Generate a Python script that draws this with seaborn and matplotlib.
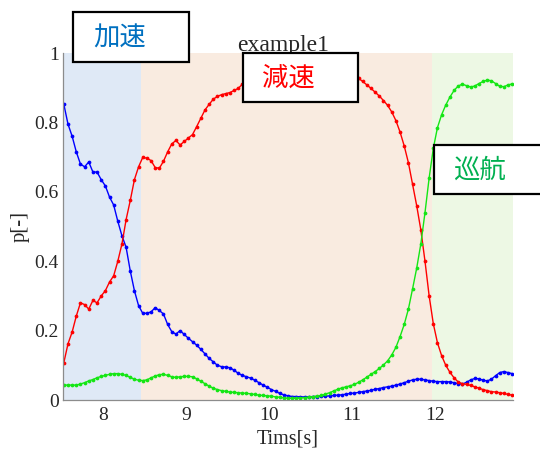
#!/usr/bin/env python3
"""Phase probability plot (accel / decel / cruise) over time."""

import numpy as np
import pandas as pd
import matplotlib
matplotlib.use('Agg')
import matplotlib.pyplot as plt
from matplotlib.patches import Rectangle
import seaborn as sns

# sampling grid [s]
T_START = 7.53
T_STEP = 0.05
N_SAMPLES = 109

# p(加速) - blue
p_accel = [
    0.852, 0.795, 0.760, 0.715, 0.680, 0.672, 0.686, 0.657, 0.657, 0.635,
    0.617, 0.585, 0.562, 0.515, 0.473, 0.440, 0.372, 0.315, 0.272, 0.250,
    0.250, 0.254, 0.266, 0.258, 0.248, 0.218, 0.197, 0.190, 0.200, 0.189,
    0.178, 0.168, 0.158, 0.146, 0.133, 0.120, 0.110, 0.100, 0.096, 0.095,
    0.093, 0.086, 0.077, 0.071, 0.067, 0.063, 0.057, 0.050, 0.043, 0.037,
    0.030, 0.025, 0.019, 0.015, 0.012, 0.010, 0.010, 0.009, 0.009, 0.009,
    0.010, 0.010, 0.011, 0.011, 0.012, 0.013, 0.014, 0.015, 0.017, 0.019,
    0.020, 0.022, 0.024, 0.026, 0.028, 0.031, 0.033, 0.036, 0.038, 0.040,
    0.043, 0.046, 0.050, 0.054, 0.058, 0.060, 0.060, 0.058, 0.056, 0.054,
    0.053, 0.053, 0.053, 0.052, 0.050, 0.047, 0.046, 0.051, 0.058, 0.062,
    0.061, 0.057, 0.055, 0.060, 0.070, 0.079, 0.082, 0.079, 0.076,
]

# p(減速) - red
p_decel = [
    0.108, 0.162, 0.196, 0.242, 0.280, 0.275, 0.262, 0.287, 0.280, 0.300,
    0.315, 0.340, 0.358, 0.400, 0.450, 0.520, 0.575, 0.635, 0.672, 0.699,
    0.697, 0.690, 0.670, 0.668, 0.688, 0.715, 0.738, 0.748, 0.735, 0.745,
    0.755, 0.765, 0.788, 0.812, 0.836, 0.852, 0.867, 0.875, 0.880, 0.883,
    0.886, 0.892, 0.898, 0.910, 0.914, 0.919, 0.927, 0.936, 0.944, 0.951,
    0.959, 0.966, 0.973, 0.979, 0.983, 0.985, 0.985, 0.985, 0.984, 0.983,
    0.980, 0.979, 0.976, 0.972, 0.967, 0.961, 0.955, 0.950, 0.945, 0.940,
    0.935, 0.927, 0.918, 0.908, 0.898, 0.887, 0.876, 0.863, 0.849, 0.830,
    0.805, 0.772, 0.732, 0.684, 0.622, 0.560, 0.490, 0.400, 0.300, 0.220,
    0.165, 0.128, 0.100, 0.080, 0.064, 0.052, 0.047, 0.045, 0.042, 0.038,
    0.034, 0.030, 0.027, 0.024, 0.023, 0.021, 0.019, 0.016, 0.014,
]

# p(巡航) - green
p_cruise = [
    0.043, 0.043, 0.043, 0.043, 0.046, 0.050, 0.055, 0.059, 0.064, 0.068,
    0.071, 0.074, 0.076, 0.076, 0.074, 0.071, 0.065, 0.060, 0.057, 0.056,
    0.058, 0.064, 0.069, 0.073, 0.074, 0.071, 0.067, 0.065, 0.067, 0.068,
    0.068, 0.067, 0.061, 0.054, 0.047, 0.040, 0.034, 0.030, 0.027, 0.025,
    0.023, 0.022, 0.021, 0.020, 0.019, 0.018, 0.016, 0.014, 0.013, 0.012,
    0.011, 0.009, 0.008, 0.006, 0.005, 0.005, 0.005, 0.006, 0.007, 0.008,
    0.010, 0.011, 0.013, 0.017, 0.021, 0.026, 0.031, 0.035, 0.038, 0.041,
    0.045, 0.051, 0.058, 0.066, 0.074, 0.082, 0.091, 0.101, 0.113, 0.130,
    0.152, 0.183, 0.218, 0.262, 0.320, 0.380, 0.450, 0.540, 0.640, 0.725,
    0.785, 0.822, 0.850, 0.873, 0.892, 0.905, 0.910, 0.906, 0.902, 0.905,
    0.912, 0.918, 0.922, 0.920, 0.912, 0.904, 0.903, 0.908, 0.911,
]

# phase boundaries [s]
phase_edges = [7.52, 8.46, 11.97, 12.94]
phase_colors = ['#dfe9f6', '#f9ebe0', '#edf8e4']

x_ticks = [8, 9, 10, 11, 12]
y_ticks = [0, 0.2, 0.4, 0.6, 0.8, 1]
y_ticklabels = ['0', '0.2', '0.4', '0.6', '0.8', '1']

SERIF = ['Liberation Serif', 'DejaVu Serif']
CJK = ['Noto Sans CJK JP', 'DejaVu Sans']


def main():
    sns.set_style('white')
    plt.rcParams['font.family'] = SERIF

    t = np.round(T_START + T_STEP * np.arange(N_SAMPLES), 2)
    df = pd.DataFrame({'t': t, 'accel': p_accel, 'decel': p_decel, 'cruise': p_cruise})

    fig = plt.figure(figsize=(5.4, 4.5), dpi=100)
    ax = fig.add_axes([0.1167, 0.1111, 0.8333, 0.7711])

    for i, c in enumerate(phase_colors):
        ax.axvspan(phase_edges[i], phase_edges[i + 1], color=c, lw=0, zorder=0)

    style = dict(marker='o', markersize=2.7, markeredgewidth=0, linewidth=1.0, sort=False)
    sns.lineplot(data=df, x='t', y='accel', color='#0000ff', ax=ax, **style)
    sns.lineplot(data=df, x='t', y='decel', color='#ff0000', ax=ax, **style)
    sns.lineplot(data=df, x='t', y='cruise', color='#14e614', ax=ax, **style)

    ax.set_xlim(phase_edges[0], phase_edges[-1])
    ax.set_ylim(0, 1)
    ax.set_xticks(x_ticks)
    ax.set_xticklabels([str(v) for v in x_ticks])
    ax.set_yticks(y_ticks)
    ax.set_yticklabels(y_ticklabels)

    for s in ['top', 'right']:
        ax.spines[s].set_visible(False)
    for s in ['left', 'bottom']:
        ax.spines[s].set_color('#8c8c8c')
        ax.spines[s].set_linewidth(0.9)
    ax.tick_params(axis='both', direction='in', length=4, width=0.8, color='#8c8c8c',
                   labelsize=14, labelcolor='#262626')
    ax.tick_params(axis='x', pad=5)
    ax.tick_params(axis='y', pad=3)

    ax.set_xlabel('Tims[s]', fontsize=14.5, color='#262626')
    ax.xaxis.set_label_coords(0.5, -0.086)
    ax.set_ylabel('p[-]', fontsize=15, color='#262626')
    ax.yaxis.set_label_coords(-0.073, 0.5)
    ax.set_title('example1', fontsize=17, color='#262626', x=0.489, y=1.006, pad=0)

    # phase label boxes (figure coords)
    boxes = [
        ('加速', '#0070c0', (0.135, 0.8622, 0.2148, 0.1111), (0.2213, 0.9156)),
        ('減速', '#ff0000', (0.450, 0.7733, 0.2130, 0.1089), (0.5340, 0.8267)),
        ('巡航', '#00b050', (0.8037, 0.5689, 0.2100, 0.1089), (0.8880, 0.6222)),
    ]
    for label, col, (x0, y0, w, h), (tx, ty) in boxes:
        fig.add_artist(Rectangle((x0, y0), w, h, transform=fig.transFigure,
                                 facecolor='white', edgecolor='black', lw=1.6,
                                 zorder=10, clip_on=False))
        fig.text(tx, ty, label, color=col, fontsize=19, family=CJK,
                 ha='center', va='center', zorder=11)

    fig.savefig('out.png', dpi=100)
    plt.close(fig)


if __name__ == '__main__':
    main()
